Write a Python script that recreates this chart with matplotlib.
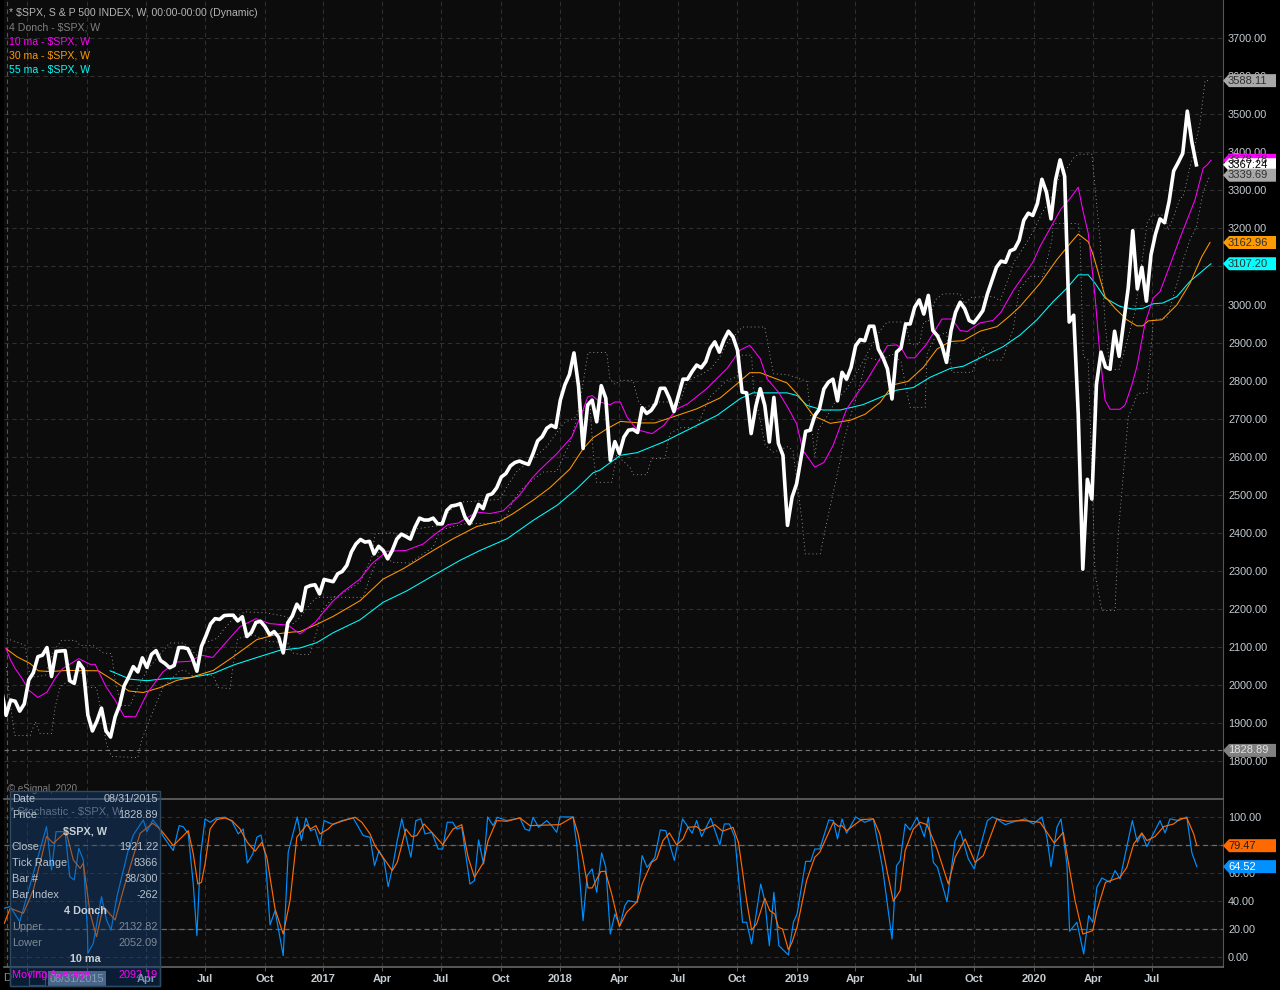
import numpy as np
import matplotlib
matplotlib.use('Agg')
from matplotlib import pyplot as plt
from matplotlib.patches import Polygon, Rectangle

plt.rcParams['font.family'] = ['Liberation Sans', 'DejaVu Sans']

W, H = 1280, 990

# weekly close, first value is the bar before the left edge
price = [1988,
    1921, 1961, 1958, 1932, 1951, 2014, 2033, 2075, 2079, 2099, 2023, 2089, 2090, 2091, 2012, 2005, 2060, 2043, 1922, 1880,
    1906, 1940, 1880, 1864, 1917, 1948, 1999, 2022, 2049, 2035, 2072, 2047, 2081, 2091, 2065, 2057, 2046, 2052, 2099, 2099,
    2096, 2071, 2037, 2102, 2130, 2161, 2175, 2173, 2183, 2184, 2184, 2169, 2180, 2128, 2139, 2165, 2168, 2154, 2133, 2141,
    2126, 2085, 2164, 2182, 2213,
    2196, 2257, 2262, 2264, 2240, 2278, 2275, 2272, 2293, 2299, 2315, 2350, 2371, 2383, 2376, 2378, 2345, 2365, 2354, 2332,
    2354, 2384, 2397, 2391, 2384, 2415, 2439, 2434, 2434, 2439, 2424, 2424, 2459, 2471, 2473, 2477, 2442, 2424, 2446, 2475,
    2464, 2499, 2503, 2519, 2547, 2556, 2576, 2585, 2589, 2584, 2580, 2609, 2642, 2653, 2675, 2683, 2677,
    2749, 2789, 2816, 2873, 2786, 2622, 2736, 2749, 2692, 2787, 2754, 2591, 2640, 2609, 2652, 2670, 2672, 2664, 2729, 2714,
    2722, 2740, 2780, 2780, 2754, 2719, 2762, 2804, 2804, 2824, 2841, 2834, 2850, 2885, 2902, 2875, 2907, 2930, 2915, 2880,
    2770, 2768, 2661, 2731, 2779, 2735, 2639, 2756, 2635, 2604, 2420, 2494, 2529, 2599, 2667, 2670,
    2708, 2725, 2778, 2796, 2804, 2747, 2822, 2804, 2835, 2892, 2908, 2905, 2943, 2943, 2883, 2861, 2831, 2752, 2875, 2886,
    2949, 2949, 2993, 3012, 2975, 3024, 2932, 2918, 2892, 2848, 2932, 2980, 3006, 2989, 2958, 2952, 2967, 2984, 3028, 3063,
    3098, 3114, 3111,
    3141, 3146, 3169, 3221, 3240, 3234, 3265, 3329, 3295, 3225, 3327, 3380, 3337, 2954, 2972, 2711, 2305, 2541, 2489, 2790,
    2875, 2836, 2830, 2930, 2864, 2955, 3044, 3194, 3041, 3098, 3009, 3130, 3185, 3225, 3215, 3271, 3351, 3373, 3397, 3508,
    3427, 3367]
price_weeks = np.arange(len(price)) - 1

ma10_weeks = [0, 1, 2, 3.5, 5, 7, 9, 11, 12.5, 16, 18.5, 19.6, 22, 24, 26, 28.5, 31, 34.5, 37.5, 40.5, 43, 45.5, 48.5, 51.5, 55,
              58, 62, 64.7, 68, 71.7, 74, 77.9, 80.5, 83.8, 88, 91.8, 94, 97.3, 99.5, 103.6, 106.5, 109.4, 113, 115.7, 117.5,
              121.2, 124.5, 126.7, 128, 129, 130.7, 133, 134, 135.2, 136.7, 138.9, 142.2, 144.7, 147.7, 150, 154.2, 158.7,
              161.5, 163.7, 166, 167.5, 170, 172, 174, 175.4, 178, 180, 182, 185, 187.5, 189.4, 192.3, 194, 196, 197.2, 198.3,
              200, 202.6, 206, 208.2, 210, 211.5, 214.4, 217.2, 219, 221.7, 226, 227.6, 229.8, 232.2, 234.2, 236, 237, 238.2,
              239.7, 240.8, 241.9, 243, 245.2, 246.3, 247.8, 248.9, 250.7, 252.5, 254, 256.2, 258.4, 261.7, 263.5, 264.4, 265.2]
ma10_vals = [2096, 2066, 2044, 2018, 1987, 1968, 1982, 2022, 2044, 2070, 2055, 2055, 1996, 1961, 1918, 1917, 1978, 2035, 2061, 2063,
             2079, 2073, 2114, 2154, 2175, 2162, 2158, 2135, 2165, 2218, 2244, 2279, 2319, 2352, 2354, 2371, 2393, 2422, 2426,
             2455, 2451, 2458, 2499, 2543, 2566, 2608, 2652, 2713, 2757, 2761, 2744, 2737, 2744, 2744, 2704, 2671, 2661, 2682,
             2726, 2739, 2779, 2832, 2880, 2893, 2858, 2805, 2770, 2731, 2687, 2617, 2573, 2585, 2629, 2725, 2769, 2800, 2857,
             2892, 2894, 2883, 2860, 2860, 2896, 2962, 2962, 2932, 2929, 2952, 2958, 2980, 3037, 3111, 3153, 3200, 3251, 3279,
             3308, 3248, 3187, 3021, 2863, 2749, 2725, 2725, 2736, 2789, 2837, 2951, 3017, 3034, 3104, 3175, 3275, 3358, 3367, 3379]

ma30_weeks = [0, 2.4, 5.3, 7.1, 9.7, 13.4, 20.3, 23.6, 27, 30.2, 33.9, 37.6, 40.5, 45.6, 50, 55.2, 60.3, 63.2, 64.7, 68.4, 72, 77.9,
              83, 87.4, 94, 98.4, 103.6, 108.7, 111.6, 116, 119.7, 124.1, 127, 129.2, 132.3, 135.2, 139.5, 142.8, 148.3, 152,
              157.2, 160.9, 163.7, 166, 168.8, 171.9, 174.5, 177.7, 181.4, 185.8, 189.1, 192.4, 195.2, 198.5, 201.9, 204.9, 207.8,
              210.7, 214.4, 218.1, 221, 223.2, 227.6, 231.3, 234.6, 236, 238.2, 239.3, 241.9, 244.1, 246.7, 248.9, 250.2, 251.4,
              254.4, 257.7, 260.6, 263.2, 265]
ma30_vals = [2096, 2075, 2057, 2038, 2036, 2039, 2038, 2013, 1985, 1981, 1994, 2013, 2020, 2039, 2075, 2120, 2136, 2140, 2141, 2160,
             2181, 2222, 2279, 2306, 2354, 2385, 2417, 2431, 2451, 2486, 2519, 2568, 2621, 2650, 2674, 2693, 2689, 2689, 2711, 2726,
             2755, 2792, 2821, 2821, 2808, 2794, 2760, 2708, 2688, 2696, 2712, 2743, 2789, 2798, 2835, 2883, 2903, 2905, 2930, 2942,
             2971, 2995, 3056, 3118, 3166, 3185, 3165, 3130, 3021, 2990, 2960, 2944, 2944, 2957, 2960, 2999, 3056, 3126, 3163]

ma55_weeks = [22.9, 27.3, 31, 35.4, 40.5, 45.6, 50, 55.2, 60.3, 64.7, 68.4, 72, 77.9, 83, 88.2, 94, 99.9, 104.3, 110.3, 116, 121.3,
              125.7, 129.2, 130.7, 135.2, 138.9, 144.7, 150.6, 156.5, 161.6, 164.4, 171.9, 174.1, 176.3, 179.8, 183.6, 188.6, 192.4,
              196, 199.7, 203.4, 207.8, 210.7, 215.1, 219.4, 223.2, 226.9, 230.5, 233.5, 236, 238.2, 239.7, 241.9, 245.2, 248, 250.2,
              252.5, 254.6, 257.7, 260.6, 263.2, 265.2]
ma55_vals = [2038, 2016, 2012, 2018, 2020, 2031, 2053, 2073, 2092, 2098, 2112, 2138, 2172, 2218, 2248, 2288, 2328, 2354, 2385, 2433,
             2473, 2517, 2558, 2565, 2604, 2611, 2639, 2674, 2709, 2753, 2768, 2768, 2761, 2735, 2723, 2723, 2737, 2756, 2775, 2782,
             2809, 2832, 2838, 2864, 2889, 2920, 2960, 3008, 3043, 3078, 3078, 3056, 3017, 2995, 2988, 2990, 3002, 3004, 3021, 3061,
             3087, 3107]

upper_weeks = [0.1, 4.2, 4.9, 6, 8.6, 10.4, 12.2, 15.2, 16.3, 19.2, 21.4, 23.2, 24, 25.4, 27.3, 28.7, 31, 36, 39, 42, 43.4, 46.4, 47.8,
               50, 52.6, 57.4, 61.8, 63.2, 64.7, 66.9, 68.4, 71.3, 73.2, 77.9, 80.5, 81.2, 85.2, 86.7, 90.4, 95.5, 97, 99.9, 108.7,
               110.2, 112.4, 116, 119, 122.7, 125.6, 126.4, 128.1, 132.2, 132.9, 134, 135.2, 138, 139.1, 140.3, 143.3, 146.8, 148,
               150, 152.7, 155, 157, 159, 161, 162, 167, 168.9, 172, 176.3, 177, 178, 178.8, 180.6, 182.4, 185, 187.5, 189.7, 192.4,
               193.9, 198, 199, 201, 202, 203, 204.5, 206.2, 210, 211, 212.5, 217.3, 218.8, 221, 221.8, 224, 226, 228, 230, 232, 233.8,
               234.9, 236, 239, 240.1, 240.8, 241.9, 243, 245, 247.4, 248.5, 250.7, 251.1, 252.2, 255.1, 255.8, 257, 258.4, 259.1,
               260.6, 262.8, 263.9, 264.6]
upper_vals = [2123, 2105, 2039, 2022, 2026, 2088, 2118, 2118, 2105, 2104, 2085, 2083, 2013, 1947, 1947, 1987, 2039, 2111, 2111, 2079,
              2110, 2123, 2145, 2175, 2193, 2190, 2180, 2162, 2178, 2213, 2231, 2231, 2235, 2270, 2336, 2398, 2401, 2389, 2411, 2420,
              2451, 2481, 2488, 2521, 2561, 2596, 2627, 2688, 2706, 2750, 2874, 2874, 2805, 2790, 2801, 2801, 2748, 2726, 2744, 2744,
              2735, 2800, 2815, 2830, 2860, 2905, 2925, 2941, 2941, 2818, 2816, 2798, 2720, 2600, 2673, 2704, 2743, 2778, 2826, 2875,
              2932, 2954, 2954, 2896, 2896, 2955, 2955, 3012, 3028, 3028, 3002, 3019, 3021, 3010, 3081, 3111, 3150, 3190, 3240, 3280,
              3340, 3362, 3384, 3395, 3395, 3257, 3170, 2951, 2828, 2830, 2933, 2982, 3170, 3213, 3235, 3235, 3196, 3231, 3279, 3283,
              3362, 3476, 3588, 3588]

lower_weeks = [0.1, 0.8, 1.9, 5.3, 6.4, 7.5, 10, 10.8, 11.9, 14.4, 16.3, 18.1, 19.9, 20.7, 22.1, 23.2, 29, 29.8, 32.4, 34.6, 38.3, 39.4,
               40.9, 45.6, 46.7, 49.3, 50, 51, 54.4, 58, 62, 63, 64.7, 66.9, 68.4, 69.5, 72, 78.6, 80.1, 81.6, 82.3, 84.9, 88.9, 91.8,
               94, 95.5, 100.6, 108.7, 110.2, 111.6, 113.8, 118.2, 121.2, 124, 125.6, 127, 128.5, 129.3, 130, 133.3, 134.4, 137.3,
               138.1, 141, 142.1, 145, 146.1, 148.4, 152, 154.9, 158.7, 160.9, 161.6, 164.1, 164.5, 167.1, 168.9, 172.1, 173.2, 175.2,
               175.9, 179.2, 180.7, 183.6, 184.2, 186.2, 188, 189.4, 192.4, 195, 197, 198, 199, 202.3, 202.7, 204.5, 207, 208.2, 212.6,
               215, 215.9, 219.2, 221.7, 223, 225.4, 228.3, 230.2, 230.5, 236, 236.4, 237.1, 238.2, 239, 239.7, 241.2, 244.1, 244.8,
               247, 247.8, 249.1, 251.1, 252.3, 252.5, 255.5, 258.4, 259.1, 260.6, 262, 263.5, 265]
lower_vals = [2048, 1961, 1868, 1868, 1904, 1873, 1873, 1943, 1996, 2018, 2039, 1994, 1994, 1943, 1846, 1813, 1810, 1855, 1934, 1996, 2039,
              2039, 2026, 2026, 1994, 1991, 2057, 2123, 2132, 2115, 2112, 2085, 2081, 2081, 2143, 2196, 2231, 2231, 2284, 2328, 2363,
              2323, 2321, 2345, 2363, 2407, 2424, 2426, 2446, 2486, 2519, 2560, 2562, 2634, 2697, 2720, 2740, 2600, 2533, 2533, 2604,
              2573, 2553, 2553, 2595, 2596, 2661, 2676, 2678, 2757, 2801, 2810, 2867, 2867, 2783, 2630, 2612, 2627, 2617, 2432, 2345,
              2345, 2432, 2590, 2633, 2721, 2790, 2861, 2853, 2870, 2850, 2787, 2730, 2730, 2870, 2914, 2927, 2822, 2822, 2888, 2854,
              2854, 2936, 3040, 3074, 3074, 3170, 3213, 3213, 3170, 2864, 2854, 2556, 2293, 2196, 2196, 2398, 2705, 2727, 2767, 2767,
              2925, 2961, 2964, 3082, 3117, 3170, 3204, 3296, 3340]

# stochastic, blue %K and orange %D
k_weeks = [-0.4, 0.9, 3, 6, 8.9, 10, 11, 13, 14, 15, 16, 17, 17.9, 18, 19.2, 21, 22.1, 23.1, 24.4, 26.9, 28, 30.2, 31, 32.3, 33.5,
           34.6, 36.8, 38.1, 39, 40.1, 41.2, 42, 42.8, 43.8, 44.9, 46.4, 48.2, 49.7, 51.1, 52.2, 53.1, 54.3, 55.2, 56.1, 57, 58.1, 59.2,
           61, 62.1, 64.1, 65, 66, 67, 68, 69.1, 70, 72, 73.9, 76.4, 78.6, 80.1, 81.1, 82.1, 83.2, 84.1, 85, 86.1, 87.1, 89.1, 90.2, 91.3,
           92.2, 93.7, 95.1, 96.1, 97.1, 98.3, 99.2, 100.3, 102.1, 103.1, 104, 105.1, 106, 107.2, 108.1, 110.2, 113.1, 114.2, 115.2, 116,
           117.2, 119, 120.1, 121.2, 121.9, 124.8, 125.6, 126.3, 127, 127.9, 129, 130, 131.1, 132, 133, 134, 135.1, 136.2, 136.9, 138.9,
           140, 141.1, 142.8, 144, 145.2, 147.1, 148.9, 151, 152, 153.1, 155.1, 157.1, 158.1, 159.2, 160.4, 162.1, 163, 164.1, 166.1, 167,
           168, 169, 170.1, 172.2, 173.3, 174.1, 176, 177.1, 178, 179.1, 181.1, 182.1, 183, 184, 185, 187, 189, 190.9, 192.9, 195, 196,
           196.8, 197.9, 199, 200.5, 202.1, 203, 204.1, 205, 207.1, 208.9, 210, 211.8, 213.1, 216, 217.1, 218.1, 219.9, 222.1, 224.3, 226.1,
           228, 229.1, 230, 231.3, 232.2, 233.5, 234.1, 235.7, 237.2, 238.3, 239.2, 240.1, 241.2, 243, 244.1, 245.2, 247.9, 249, 250, 251.1,
           254, 255.1, 256.2, 258.1, 259.9, 261, 262.1]
k_vals = [34.8, 36, 25.2, 59.8, 93.1, 62.1, 89.5, 89.5, 57.4, 55, 77.6, 69.3, 19.3, 2.6, 9.8, 43.1, 26.4, 19.3, 43.1, 76.4, 87.1, 97.9, 89.5,
          97.9, 93.1, 86, 76, 93.8, 93, 87.9, 52, 15.2, 72.4, 98.6, 96.2, 99.3, 99.8, 96.9, 87.9, 91.4, 67.1, 73.6, 85.5, 87.1, 73.6, 22.9, 33.1,
          1, 74.8, 100, 83.1, 99.3, 90.2, 91.4, 79.5, 97.4, 94.5, 97.4, 99.3, 86.7, 85.5, 65.2, 76, 68.8, 50.2, 62.9, 83.1, 98.6, 71.2, 97.4, 98.6,
          87.9, 89, 77.1, 77.1, 96.2, 96.2, 91.4, 92.6, 52.1, 54.5, 83.6, 66.4, 100, 93.8, 99.8, 97.4, 99.3, 91.4, 90.2, 99.8,
          92.6, 97.4, 93.8, 89, 100, 100, 80.5, 54.5, 26, 58.1, 62.9, 46.2, 74.3, 64, 16.4, 30.7, 22.4, 36.7, 40.2, 39,
          72.4, 64, 71.2, 90.7, 90.2, 69, 98.6, 88.4, 97.4, 86, 99.3, 80, 95, 95, 85.5, 24.8, 24.8, 9.3, 52.1, 40.2,
          8.1, 46.2, 8.1, 1.4, 24.8, 30.7, 68.3, 68.3, 77.1, 77.1, 97.9, 97.4, 84.3, 98.6, 88.4, 100, 96.2, 98.6, 64, 12.8, 65.2,
          68.8, 95, 90.7, 99.8, 85.9, 99.8, 67.6, 64, 39.5, 83.1, 90.2, 70, 62.9, 97.4, 100, 98.6, 94.5, 96.9, 98.6, 95,
          100, 85.5, 64.5, 92.6, 98.6, 66.4, 18.3, 24.8, 2.1, 29.5, 24.8, 49.8, 56.4, 53.3, 61.7, 55.7, 97.4, 81.9, 87.9, 78.8,
          97.4, 88.6, 98.6, 97.4, 100, 74.5, 64.52]

d_weeks = [-0.4, 0.9, 3.8, 6, 8.9, 10.4, 13.2, 14.8, 16.3, 17, 18.5, 19.9, 21.4, 24, 25.8, 29.5, 32.3, 33.9, 36.8, 40.1, 41.2, 42.2, 43, 43.8,
           44.9, 46.4, 48.2, 49.7, 51.5, 53.1, 54.8, 56.3, 57.4, 59.2, 61, 62.5, 64, 66.2, 67, 68.2, 69.1, 70.9, 72, 76.8, 78.3, 80.1, 81.2, 82.7,
           85, 86.1, 88, 89.3, 90.4, 92, 94, 96.1, 98.4, 100.3, 101.7, 103.1, 105.1, 106.1, 108, 110.2, 113.1, 115.3, 121.9, 124.8, 125.9, 126.9,
           128.1, 129, 130.9, 131.9, 133.3, 135, 136.6, 138.9, 140, 142.1, 143.2, 144.6, 146, 147.6, 149, 150.1, 152, 153.1, 156, 157.7, 160, 161.2,
           163, 164.1, 165.2, 167, 168.1, 169.2, 170, 170.9, 172.2, 173, 174.1, 176.2, 178, 179.1, 182.1, 183.2, 184, 185, 186.8, 188.3, 190.9, 192.3,
           194.2, 195.3, 196.8, 197.9, 199.7, 201.2, 202.7, 205, 207.4, 208.9, 211.1, 213.3, 215.1, 218.1, 220.3, 224, 227.6, 229.1, 230.7, 232.7,
           233.5, 235.3, 237, 239.2, 240.1, 242, 245.2, 246.7, 248.2, 250, 251.1, 252.9, 254.8, 257, 258.4, 259.9, 261.4, 262.1]
d_vals = [24, 34.8, 31.2, 47.9, 86, 81.2, 89.5, 69.3, 63.3, 66.9, 31.2, 14.5, 36, 26.4, 47.9, 88.3, 95.5, 91.4, 79.5, 90.2, 73.6, 52.1, 53.3, 66.4,
          91.4, 98.1, 99.3, 97.4, 91.4, 81.9, 75.5, 81.9, 71.2, 34.3, 16.4, 40.2, 85.5, 94.5, 91.4, 93.8, 87.9, 91.4, 95, 99.8, 96.2, 87.9, 79.5, 72.4,
          61.7, 67.6, 91.4, 86, 86.7, 95, 87.9, 80.2, 91.4, 94.5, 71.2, 56.9, 67.6, 83.1, 97.4, 96.9, 99.3, 93.8, 94.5, 100, 87.9, 71.2,
          49.3, 49.3, 61, 61.2, 45, 21.7, 31.9, 39.5, 52.1, 67.6, 70, 83.1, 88.6, 80, 84.3, 92.6, 93.1, 90.2, 94.5, 89.8, 92.6, 81.9,
          40.2, 19.3, 23.6, 41.9, 33.1, 30.7, 21.2, 20, 5.2, 10.5, 21.2, 54.5, 71.2, 74.8, 96.2, 93.3, 93.8, 90.2, 94.5, 98.1, 98.6, 87.9,
          56.9, 39.8, 47.4, 76, 91.4, 96.2, 94.5, 76.4, 52.1, 71.2, 84.3, 67.6, 72.4, 98.6, 96.9, 97.4, 96.2, 89, 81.4, 89,
          73.6, 40.2, 16.4, 18.8, 33.1, 53.3, 56.9, 64, 80.7, 88.6, 83.1, 86, 93.1, 95, 98.6, 99.3, 87.9, 79.47]

tick_weeks = [4.6, 17.8, 30.8, 43.8, 57, 69.8, 82.8, 95.7, 108.9, 121.9, 134.9, 147.9, 160.9, 174.1, 186.9, 200.1, 213.1, 226.3, 239.3, 252.2]
# the first two date labels sit behind the toolbar and date box
tick_labels = ['', '', 'Apr', 'Jul', 'Oct', '2017', 'Apr', 'Jul', 'Oct', '2018', 'Apr', 'Jul', 'Oct', '2019', 'Apr', 'Jul', 'Oct',
               '2020', 'Apr', 'Jul']
price_ticks = list(range(1800, 3800, 100))
stoch_ticks = [0, 20, 40, 60, 80, 100]

legend_lines = [('* $SPX, S & P 500 INDEX, W, 00:00-00:00 (Dynamic)', '#b4b4b4'), ('4 Donch - $SPX, W', '#808080'),
                ('10 ma - $SPX, W', '#ff00ff'), ('30 ma - $SPX, W', '#ff9900'), ('55 ma - $SPX, W', '#00ffff')]
info_rows = [('Date', '08/31/2015', '#b8c4cc', 799), ('Price', '1828.89', '#b8c4cc', 815), ('Close', '1921.22', '#b8c4cc', 847),
             ('Tick Range', '8366', '#b8c4cc', 863), ('Bar #', '38/300', '#b8c4cc', 879), ('Bar Index', '-262', '#b8c4cc', 895),
             ('Upper', '2132.82', '#7d8a94', 927), ('Lower', '2052.09', '#7d8a94', 943), ('Moving Average', '2092.19', '#ff00ff', 975)]
info_heads = [('$SPX, W', 831), ('4 Donch', 911), ('10 ma', 959)]

BG = '#0c0c0c'
GRID = '#2f2f2f'


def to_fig(x, y):
    return x / W, 1 - y / H


def axes_box(left, top, right, bottom):
    return [left / W, 1 - bottom / H, (right - left) / W, (bottom - top) / H]


def price_tag(ax, value, text, face, color):
    y = H - ax.transData.transform((0, value))[1]
    pts = [(1223, y), (1229, y - 6.5), (1276, y - 6.5), (1276, y + 6.5), (1229, y + 6.5)]
    fig.add_artist(Polygon([to_fig(*p) for p in pts], closed=True, transform=fig.transFigure, fc=face, ec='none', zorder=5))
    fx, fy = to_fig(1228, y)
    fig.text(fx, fy, text, color=color, fontsize=8, ha='left', va='center', zorder=6)


fig = plt.figure(figsize=(W / 100, H / 100), dpi=100, facecolor='black')
ax1 = fig.add_axes(axes_box(4, 0, 1222.5, 798.5))
ax2 = fig.add_axes(axes_box(4, 800, 1222.5, 966.5), sharex=ax1)

for ax in (ax1, ax2):
    ax.set_facecolor(BG)
    ax.grid(True, color=GRID, linestyle=(0, (4, 3)), linewidth=0.8)
    ax.set_axisbelow(True)
    ax.yaxis.tick_right()
    ax.tick_params(axis='y', length=0, pad=4, labelsize=7.8, labelcolor='#c4ccd2')
    ax.axvline(0.1, color='#555555', linestyle=(0, (4, 3)), linewidth=0.8, zorder=1)
    ax.spines['left'].set_visible(False)
    ax.spines['top'].set_visible(False)
    ax.spines['right'].set_color('#555555')
    ax.spines['bottom'].set_color('#666666')
    ax.spines['bottom'].set_linewidth(1.2)

ax1.set_xlim(-0.46, 267.75)
ax1.set_ylim(1702.6, 3799.9)
ax1.set_yticks(price_ticks)
ax1.set_yticklabels(['%.2f' % t for t in price_ticks])
ax1.set_xticks(tick_weeks)
ax1.tick_params(axis='x', length=0, labelbottom=False)
ax1.axhline(1828.89, color='#777777', linestyle=(0, (4, 3)), linewidth=0.8, zorder=1)

ax1.plot(upper_weeks, upper_vals, color='#a0a0a0', linestyle=(0, (1.2, 3.4)), linewidth=0.6, zorder=2)
ax1.plot(lower_weeks, lower_vals, color='#a0a0a0', linestyle=(0, (1.2, 3.4)), linewidth=0.6, zorder=2)
ax1.plot(ma55_weeks, ma55_vals, color='#00ffff', linewidth=0.75, zorder=3)
ax1.plot(ma30_weeks, ma30_vals, color='#ff9900', linewidth=0.75, zorder=3)
ax1.plot(ma10_weeks, ma10_vals, color='#ff00ff', linewidth=0.75, zorder=3)
ax1.plot(price_weeks, price, color='white', linewidth=2.6, solid_joinstyle='round', zorder=4)

ax2.set_ylim(-6.8, 112.1)
ax2.set_yticks(stoch_ticks)
ax2.set_yticklabels(['%.2f' % t for t in stoch_ticks])
ax2.set_xticks(tick_weeks)
ax2.set_xticklabels(tick_labels, fontweight='bold')
ax2.tick_params(axis='x', length=3, width=0.8, color='#555555', pad=2.5, labelsize=8, labelcolor='#c4ccd2')
for level in (20, 80):
    ax2.axhline(level, color='#6a6a6a', linestyle=(0, (4, 3)), linewidth=0.9, zorder=1)
ax2.plot(k_weeks, k_vals, color='#0090ff', linewidth=0.85, zorder=3)
ax2.plot(d_weeks, d_vals, color='#ff6a00', linewidth=0.85, zorder=4)

for i, (text, color) in enumerate(legend_lines):
    fx, fy = to_fig(9, 13.5 + 14 * i)
    fig.text(fx, fy, text, color=color, fontsize=7.55, ha='left', va='center', zorder=4)
fx, fy = to_fig(8, 789)
fig.text(fx, fy, '\u00a9 eSignal, 2020', color='#808080', fontsize=7, ha='left', va='center', zorder=4)
fx, fy = to_fig(10, 812)
fig.text(fx, fy, '* Stochastic - $SPX, W', color='#8a8a8a', fontsize=7.9, ha='left', va='center', zorder=4)

price_tag(ax1, 3588.11, '3588.11', '#a8a8a8', '#303030')
price_tag(ax1, 3378.78, '3378.78', '#ff00ff', '#303030')
price_tag(ax1, 3367.24, '3367.24', '#ffffff', '#000000')
price_tag(ax1, 3339.69, '3339.69', '#a8a8a8', '#303030')
price_tag(ax1, 3162.96, '3162.96', '#ff9900', '#303030')
price_tag(ax1, 3107.20, '3107.20', '#00ffff', '#303030')
price_tag(ax1, 1828.89, '1828.89', '#808080', '#e0e0e0')
price_tag(ax2, 79.47, '79.47', '#ff6a00', '#202020')
price_tag(ax2, 64.52, '64.52', '#0090ff', '#ffffff')

# toolbar bits, crosshair date box and the data window over the lower left corner
fx, fy = to_fig(7, 978)
fig.text(fx, fy, 'D', color='#8a8a8a', fontsize=8, ha='center', va='center', zorder=4)
fig.add_artist(Rectangle(to_fig(29, 985), 16 / W, 14 / H, transform=fig.transFigure, fc='none', ec='#555555', lw=0.8, zorder=4))
fig.add_artist(Rectangle(to_fig(48, 986), 58 / W, 15 / H, transform=fig.transFigure, fc='#6b7a8a', ec='none', zorder=7))
fx, fy = to_fig(77, 979)
fig.text(fx, fy, '08/31/2015', color='#d0d8de', fontsize=7.8, ha='center', va='center', zorder=8)
fig.add_artist(Rectangle(to_fig(10, 986), 150 / W, 195 / H, transform=fig.transFigure,
                         fc=(0.09, 0.29, 0.53, 0.4), ec='#2d4a60', lw=1, zorder=20))
fig.add_artist(Rectangle(to_fig(10, 986), 150 / W, 19 / H, transform=fig.transFigure, fc='none', ec='#2d4a60', lw=1, zorder=20))
for label, value, color, y in info_rows:
    fx, fy = to_fig(12, y)
    fig.text(fx, fy, label, color=color, fontsize=7.8, ha='left', va='center', zorder=21)
    fx, fy = to_fig(158, y)
    fig.text(fx, fy, value, color=color, fontsize=7.8, ha='right', va='center', zorder=21)
for label, y in info_heads:
    fx, fy = to_fig(85, y)
    fig.text(fx, fy, label, color='#c8d0d6', fontsize=7.8, fontweight='bold', ha='center', va='center', zorder=21)

fig.savefig('out.png', dpi=100, facecolor='black')
